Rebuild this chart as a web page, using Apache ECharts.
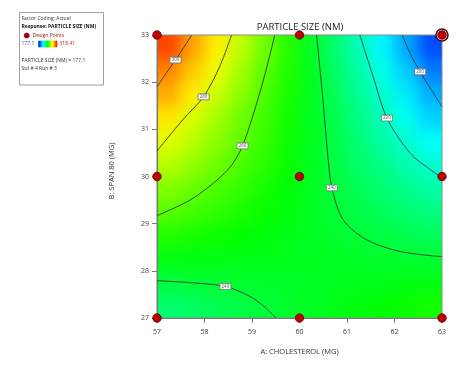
<!DOCTYPE html>
<html><head><meta charset="utf-8">
<script src="https://cdn.jsdelivr.net/npm/echarts@6/dist/echarts.min.js"></script>
<style>
html,body{margin:0;padding:0;background:#fff;}
#wrap{position:relative;width:468px;height:381px;overflow:hidden;}
#heatClip{position:absolute;left:157px;top:35px;width:285px;height:283px;overflow:hidden;}
#heat{position:absolute;left:-24px;top:-24px;width:333px;height:331px;filter:blur(7.5px);}
#main{position:absolute;left:0;top:0;width:468px;height:381px;}
</style></head>
<body><div id="wrap"><div id="heatClip"><div id="heat"></div></div><div id="main"></div></div>
<script>
// ---------------- data ----------------
const responseMin = 177.1;
const responseMax = 318.41;
const xTicks = [57, 58, 59, 60, 61, 62, 63];   // A: Cholesterol (mg)
const yTicks = [27, 28, 29, 30, 31, 32, 33];   // B: Span 80 (mg)

// cell centres of the response surface grid
const cholesterol = [57.25, 57.75, 58.25, 58.75, 59.25, 59.75, 60.25, 60.75, 61.25, 61.75, 62.25, 62.75];
const span80 = [27.25, 27.75, 28.25, 28.75, 29.25, 29.75, 30.25, 30.75, 31.25, 31.75, 32.25, 32.75];
// particle size (nm), one row per span80 value (bottom to top)
const particleSize = [
  [232.4, 234.3, 236.2, 238.1, 240.0, 241.5, 243.0, 244.5, 246.0, 247.4, 248.9, 250.4],
  [239.0, 240.1, 240.6, 241.2, 241.7, 242.3, 242.9, 243.4, 244.0, 244.5, 245.1, 245.7],
  [245.3, 245.2, 245.0, 244.7, 244.4, 244.0, 243.5, 243.0, 242.5, 242.0, 241.5, 241.0],
  [252.1, 250.6, 249.1, 247.6, 246.1, 244.6, 243.2, 241.7, 240.2, 238.7, 237.1, 235.6],
  [259.5, 256.8, 254.1, 251.4, 248.7, 246.0, 243.3, 240.6, 238.0, 235.4, 232.8, 230.2],
  [265.9, 262.1, 258.3, 254.5, 250.8, 247.0, 243.2, 239.5, 235.8, 232.1, 228.4, 224.7],
  [273.0, 268.0, 263.1, 258.2, 253.3, 248.4, 243.6, 238.7, 233.7, 228.8, 223.8, 218.8],
  [279.0, 273.0, 267.0, 261.0, 255.2, 249.4, 243.7, 237.7, 231.4, 225.2, 218.9, 212.8],
  [286.4, 277.6, 270.5, 263.4, 256.6, 250.1, 243.6, 236.6, 229.0, 221.4, 213.9, 206.5],
  [294.6, 285.0, 275.8, 267.0, 258.5, 251.0, 243.5, 235.5, 227.1, 218.6, 210.0, 201.4],
  [299.8, 290.2, 280.6, 270.7, 260.8, 251.9, 243.2, 234.1, 224.8, 215.2, 205.3, 194.4],
  [309.0, 296.0, 285.1, 274.3, 263.6, 253.1, 242.7, 232.4, 222.1, 211.3, 200.4, 187.3]
];

// contour lines [cholesterol, span80]
const contour300 = [[57, 31.9], [57.2, 32.2], [57.39, 32.47], [57.56, 32.73], [57.73, 33]];
const contour280 = [[57, 30.54], [57.54, 31.2], [57.98, 31.69], [58.32, 32.33], [58.57, 33]];
const contour260 = [[57, 29.17], [57.76, 29.54], [58.49, 30.14], [58.8, 30.65], [59.2, 31.9], [59.48, 33]];
const contour240a = [[60.36, 33], [60.5, 31.55], [60.6, 30.4], [60.68, 29.76], [60.92, 29.08], [61.41, 28.66], [62.12, 28.41], [63, 28.3]];
const contour240b = [[57, 27.79], [57.7, 27.75], [58.44, 27.67], [58.95, 27.46], [59.25, 27.25], [59.5, 27]];
const contour220 = [[61.27, 33], [61.55, 32.12], [61.84, 31.24], [62.33, 30.49], [62.75, 30.15], [63, 29.97]];
const contour200 = [[62.16, 33], [62.33, 32.61], [62.54, 32.22], [62.78, 31.83], [63, 31.48]];

// contour labels
const labelLevels = [300, 280, 260, 240, 240, 220, 200];
const labelA = [57.39, 57.98, 58.8, 60.68, 58.44, 61.84, 62.54];
const labelB = [32.47, 31.69, 30.65, 29.76, 27.67, 31.24, 32.22];

// design points
const designA = [57, 60, 63, 57, 60, 63, 57, 60, 63];
const designB = [33, 33, 33, 30, 30, 30, 27, 27, 27];
const selectedRun = [63, 33];

// ---------------- rendering ----------------
const FONT = "'Open Sans', 'Noto Sans', sans-serif";
const palette = ['#0000ff', '#00ffff', '#00ff00', '#ffff00', '#ff0000'];
const CELL_HALF = 0.25;
const PAD = 24;

const heatData = [];
span80.forEach((b, j) => cholesterol.forEach((a, i) => heatData.push([a, b, particleSize[j][i]])));

const heat = echarts.init(document.getElementById('heat'), null, {renderer: 'canvas'});
heat.setOption({
  animation: false,
  backgroundColor: 'transparent',
  grid: {left: PAD, right: PAD, top: PAD, bottom: PAD},
  xAxis: {type: 'value', min: xTicks[0], max: xTicks[xTicks.length - 1], show: false},
  yAxis: {type: 'value', min: yTicks[0], max: yTicks[yTicks.length - 1], show: false},
  visualMap: {show: false, min: responseMin, max: responseMax, dimension: 2, seriesIndex: 0, inRange: {color: palette}},
  series: [{
    type: 'custom',
    data: heatData,
    encode: {x: 0, y: 1},
    renderItem: function (params, api) {
      const a = api.value(0), b = api.value(1);
      const tl = api.coord([a - CELL_HALF, b + CELL_HALF]);
      const br = api.coord([a + CELL_HALF, b - CELL_HALF]);
      const cs = params.coordSys;
      let x0 = tl[0], y0 = tl[1], x1 = br[0], y1 = br[1];
      if (x0 <= cs.x + 0.5) x0 -= PAD;
      if (x1 >= cs.x + cs.width - 0.5) x1 += PAD;
      if (y0 <= cs.y + 0.5) y0 -= PAD;
      if (y1 >= cs.y + cs.height - 0.5) y1 += PAD;
      return {type: 'rect', shape: {x: x0, y: y0, width: x1 - x0 + 0.6, height: y1 - y0 + 0.6},
        style: {fill: api.visual('color')}};
    }
  }]
});

const chart = echarts.init(document.getElementById('main'), null, {renderer: 'canvas'});
const lineStyle = {color: '#333a33', width: 0.9};
function contourSeries(data) {
  return {type: 'line', data: data, symbol: 'none', smooth: 0.3, silent: true, z: 3,
    lineStyle: lineStyle, animation: false};
}
const axisCommon = {
  type: 'value', interval: 1,
  axisLine: {show: true, lineStyle: {color: '#7a7a7a', width: 1.2}},
  axisTick: {show: true, length: 5, lineStyle: {color: '#7a7a7a'}},
  splitLine: {show: false},
  axisLabel: {fontSize: 7, color: '#404040', fontFamily: FONT},
  nameLocation: 'middle',
  nameTextStyle: {fontSize: 7.5, color: '#333', fontFamily: FONT}
};
const legendText = (x, y, text, extra) => ({type: 'text', x: x, y: y,
  style: Object.assign({text: text, fontSize: 5, fontFamily: FONT, fill: '#333', verticalAlign: 'middle'}, extra || {})});

chart.setOption({
  animation: false,
  backgroundColor: 'transparent',
  grid: {left: 157, right: 26, top: 35, bottom: 63, show: true, borderColor: '#8a8a8a', borderWidth: 1, backgroundColor: 'transparent'},
  xAxis: Object.assign({}, axisCommon, {min: xTicks[0], max: xTicks[xTicks.length - 1],
    name: 'A: CHOLESTEROL (MG)', nameGap: 30, axisLabel: Object.assign({}, axisCommon.axisLabel, {margin: 10})}),
  yAxis: Object.assign({}, axisCommon, {min: yTicks[0], max: yTicks[yTicks.length - 1],
    axisLabel: Object.assign({}, axisCommon.axisLabel, {margin: 8})}),
  series: [
    contourSeries(contour300), contourSeries(contour280), contourSeries(contour260),
    contourSeries(contour240a), contourSeries(contour240b), contourSeries(contour220), contourSeries(contour200),
    {
      type: 'scatter', z: 4, silent: true,
      data: labelLevels.map((v, i) => [labelA[i], labelB[i], v]),
      symbol: 'rect', symbolSize: [11, 6],
      itemStyle: {color: '#ffffff', borderColor: '#6a6a6a', borderWidth: 0.7, opacity: 1},
      label: {show: true, position: 'inside', formatter: p => p.value[2], fontSize: 4.5, color: '#555', fontFamily: FONT}
    },
    {
      type: 'scatter', z: 5, silent: true,
      data: [selectedRun],
      symbol: 'circle', symbolSize: 12,
      itemStyle: {color: '#f2e4e4', borderColor: '#4a0808', borderWidth: 1.5, opacity: 1}
    },
    {
      type: 'scatter', z: 6, silent: true,
      data: designA.map((a, i) => [a, designB[i]]),
      symbol: 'circle', symbolSize: 8.5,
      itemStyle: {color: '#c00000', borderColor: '#5a0000', borderWidth: 0.8, opacity: 1}
    }
  ],
  graphic: [
    {type: 'text', x: 300, y: 27, z: 10, style: {text: 'PARTICLE SIZE (NM)', fontSize: 9.5, fontFamily: FONT, fill: '#222', align: 'center', verticalAlign: 'middle'}},
    {type: 'text', x: 112, y: 171, rotation: Math.PI / 2, z: 10, style: {text: 'B: SPAN 80 (MG)', fontSize: 7.5, fontFamily: FONT, fill: '#333', align: 'center', verticalAlign: 'middle'}},
    {type: 'rect', shape: {x: 19.5, y: 12.5, width: 84, height: 72.5}, style: {fill: '#fff', stroke: '#a0a0a0', lineWidth: 1}, z: 10},
    Object.assign(legendText(21.5, 19, 'Factor Coding: Actual'), {z: 11}),
    Object.assign(legendText(21.5, 27, 'Response: PARTICLE SIZE (NM)', {fontWeight: 'bold', fill: '#111'}), {z: 11}),
    {type: 'circle', shape: {cx: 26.7, cy: 35.5, r: 2.6}, style: {fill: '#b00000', stroke: '#5a0000', lineWidth: 0.5}, z: 11},
    Object.assign(legendText(32.5, 35.5, 'Design Points', {fill: '#a01515'}), {z: 11}),
    Object.assign(legendText(21.5, 44, String(responseMin), {fill: '#3a3ab0'}), {z: 11}),
    {type: 'rect', shape: {x: 38.3, y: 40.7, width: 19, height: 6.6}, z: 11,
      style: {fill: new echarts.graphic.LinearGradient(0, 0, 1, 0, palette.map((c, i) => ({offset: i / (palette.length - 1), color: c})))}},
    Object.assign(legendText(59.5, 44, String(responseMax), {fill: '#c02020'}), {z: 11}),
    Object.assign(legendText(21.5, 60.3, 'PARTICLE SIZE (NM) = ' + responseMin), {z: 11}),
    Object.assign(legendText(21.5, 68.7, 'Std # 4 Run # 3'), {z: 11})
  ]
});
</script>
</body></html>
